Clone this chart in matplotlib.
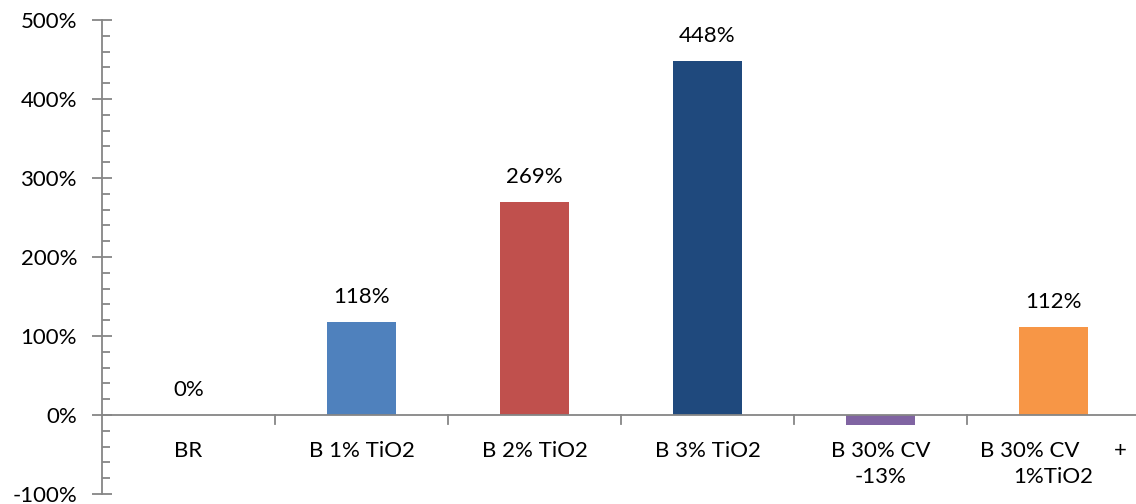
from matplotlib import pyplot as plt
from matplotlib.ticker import MultipleLocator, FuncFormatter
import numpy as np

categories = ['BR', 'B 1% TiO2', 'B 2% TiO2', 'B 3% TiO2', 'B 30% CV',
              'B 30% CV      +\n1%TiO2']
values = [0, 118, 269, 448, -13, 112]
colors = ['#4F81BD', '#4F81BD', '#C0504D', '#1F497D', '#8064A2', '#F79646']

plt.rcParams['font.family'] = ['Lato', 'DejaVu Sans']
plt.rcParams['font.size'] = 16

fig = plt.figure(figsize=(11.36, 5.04), dpi=100)
# axis right edge runs slightly past the picture, as in the original
ax = fig.add_axes([102 / 1136, 10 / 504, 1038 / 1136, 474 / 504])

x = np.arange(len(categories))
ax.bar(x, values, width=0.4, color=colors, zorder=2)

ax.set_xlim(-0.5, len(categories) - 0.5)
ax.set_ylim(-100, 500)

gray = '#868686'
for side in ['top', 'right', 'bottom']:
    ax.spines[side].set_visible(False)
ax.spines['left'].set_color(gray)
ax.spines['left'].set_linewidth(1.3)

# x axis drawn at zero
ax.axhline(0, color=gray, lw=1.3, zorder=3)

ax.yaxis.set_major_locator(MultipleLocator(100))
ax.yaxis.set_minor_locator(MultipleLocator(20))
ax.yaxis.set_major_formatter(FuncFormatter(lambda v, p: '%d%%' % v))
ax.tick_params(axis='y', which='major', direction='inout', length=14,
               width=1.3, color=gray, pad=11)
ax.tick_params(axis='y', which='minor', direction='in', length=6,
               width=1.3, color=gray)

# category labels and boundary ticks hang from the zero line
ax.set_xticks([])
for i in range(1, len(categories)):
    ax.plot([i - 0.5, i - 0.5], [0, -11], color=gray, lw=1.3,
            clip_on=False, zorder=3)
for i, lab in enumerate(categories):
    ax.annotate(lab, (i, 0), xytext=(0, -26), textcoords='offset pixels',
                ha='center', va='top', linespacing=1.4)

for i, v in enumerate(values):
    off = 25 if v >= 0 else -52
    ax.annotate('%d%%' % v, (i, v), xytext=(0, off), textcoords='offset pixels',
                ha='center', va='center')

fig.savefig('out.png', dpi=100)
